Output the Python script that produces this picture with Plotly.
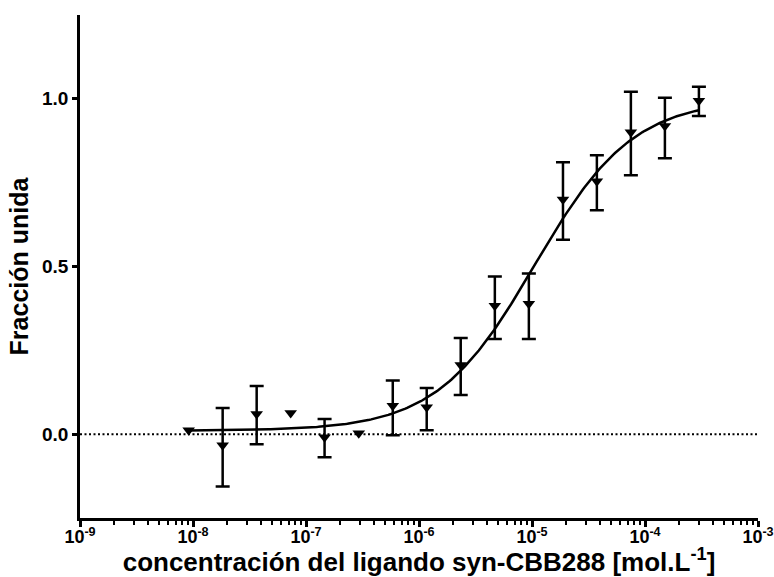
import numpy as np
import plotly.graph_objects as go

# Data
conc = [9.16e-9, 1.83e-8, 3.66e-8, 7.32e-8, 1.46e-7, 2.93e-7, 5.86e-7, 1.17e-6,
        2.34e-6, 4.69e-6, 9.38e-6, 1.88e-5, 3.75e-5, 7.5e-5, 1.5e-4, 3.0e-4]
frac = [0.012, -0.033, 0.06, 0.063, -0.009, 0.003, 0.085, 0.08,
        0.206, 0.383, 0.389, 0.70, 0.754, 0.90, 0.919, 0.994]
err_top = [None, 0.078, 0.144, None, 0.045, None, 0.16, 0.138,
           0.287, 0.47, 0.479, 0.811, 0.832, 1.021, 1.003, 1.036]
err_bot = [None, -0.156, -0.03, None, -0.069, None, -0.003, 0.012,
           0.117, 0.284, 0.284, 0.58, 0.668, 0.772, 0.823, 0.949]

# Fitted dose-response (Hill) parameters estimated from the drawn curve
fit_bottom = 0.01
fit_top = 1.0
fit_logec50 = -4.975
fit_hill = 1.0

x_tickvals = [1e-9, 1e-8, 1e-7, 1e-6, 1e-5, 1e-4, 1e-3]
x_ticktext = ["10<sup>-9</sup>", "10<sup>-8</sup>", "10<sup>-7</sup>", "10<sup>-6</sup>",
              "10<sup>-5</sup>", "10<sup>-4</sup>", "10<sup>-3</sup>"]
y_tickvals = [0.0, 0.5, 1.0]
y_ticktext = ["0.0", "0.5", "1.0"]

x_title = "concentración del ligando syn-CBB288 [mol.L<sup>-1</sup>]"
y_title = "Fracción unida"

# split into points with and without error bars
xe, ye, up, dn = [], [], [], []
xn, yn = [], []
for c, f, t, b in zip(conc, frac, err_top, err_bot):
    if t is None:
        xn.append(c); yn.append(f)
    else:
        xe.append(c); ye.append(f); up.append(t - f); dn.append(f - b)

lx = np.linspace(np.log10(conc[0]), np.log10(conc[-1]), 300)
curve_x = 10 ** lx
curve_y = fit_bottom + (fit_top - fit_bottom) / (1 + 10 ** ((fit_logec50 - lx) * fit_hill))

fig = go.Figure()
fig.add_trace(go.Scatter(x=[1e-9, 1e-3], y=[0, 0], mode="lines",
                         line=dict(color="black", width=2, dash="2px,2.5px"),
                         hoverinfo="skip", cliponaxis=False))
fig.add_trace(go.Scatter(x=curve_x, y=curve_y, mode="lines",
                         line=dict(color="black", width=2.5)))
fig.add_trace(go.Scatter(x=xe, y=ye, mode="markers",
                         marker=dict(symbol="triangle-down", size=11, color="black"),
                         error_y=dict(type="data", symmetric=False, array=up, arrayminus=dn,
                                      color="black", thickness=2.5, width=7)))
fig.add_trace(go.Scatter(x=xn, y=yn, mode="markers",
                         marker=dict(symbol="triangle-down", size=11, color="black")))

minor_vals = [k * 10.0 ** d for d in range(-9, -3) for k in range(2, 10)]

fig.update_layout(
    width=774, height=577,
    margin=dict(l=80, r=16, t=15, b=59),
    paper_bgcolor="white", plot_bgcolor="white",
    showlegend=False,
    font=dict(family="Liberation Sans, Arial, sans-serif", color="black", size=17, weight="bold"),
    xaxis=dict(
        type="log", range=[-9, -3], automargin=False,
        tickvals=x_tickvals, ticktext=x_ticktext,
        ticks="outside", ticklen=6, tickwidth=2.5, tickcolor="black",
        ticklabelstandoff=-5,
        showline=True, linecolor="black", linewidth=2.5,
        showgrid=False, zeroline=False,
        tickfont=dict(size=18, weight="bold"),
        minor=dict(tickvals=minor_vals, ticks="outside", ticklen=4, tickwidth=2, tickcolor="black", showgrid=False),
        title=dict(text=x_title, font=dict(size=26, weight="bold"), standoff=9),
    ),
    yaxis=dict(
        range=[-0.25, 1.25], automargin=False,
        tickvals=y_tickvals, ticktext=y_ticktext,
        ticks="outside", ticklen=5, tickwidth=2.5, tickcolor="black",
        showline=True, linecolor="black", linewidth=2.5,
        showgrid=False, zeroline=False,
        tickfont=dict(size=19, weight="bold"),
        title=dict(text=y_title, font=dict(size=25, weight="bold"), standoff=7),
    ),
)

fig.write_html("out.html", config={"displayModeBar": False},
               post_script="document.body.style.margin='0px';document.body.style.overflow='hidden';")
